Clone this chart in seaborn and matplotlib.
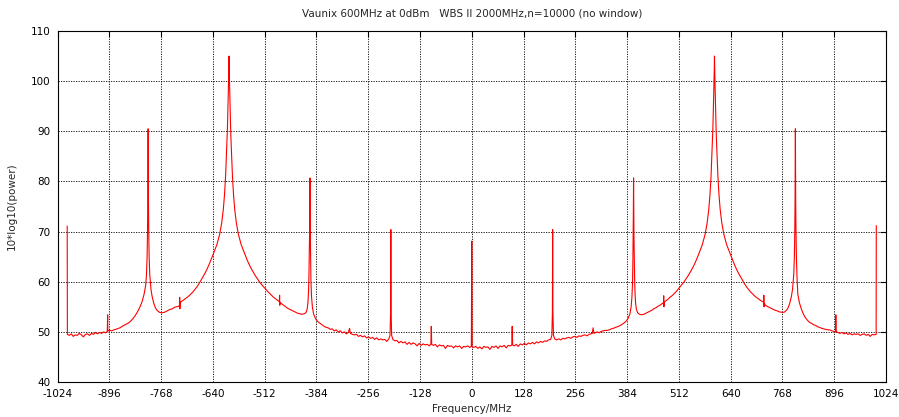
import matplotlib
matplotlib.use("Agg")
import matplotlib.pyplot as plt
import seaborn as sns
import pandas as pd

# ---- data (frequency in MHz, power in dB) ----
freq_mhz = [
    -1000, -999.6, -995, -990, -985, -980, -975, -970, -965, -960,
    -955, -950, -945, -940, -935, -930, -925, -920, -915, -910,
    -905, -901, -900, -899.6, -895, -890, -885, -880, -870, -860,
    -850, -845, -840, -835, -830, -825, -820, -815, -810, -806,
    -804, -802.5, -801.5, -800.8, -800.3, -800, -799.7, -799.2, -798.5, -797.5,
    -796, -793, -790, -786, -782, -778, -772, -766, -760, -755,
    -750, -745, -740, -735, -730, -725, -722.5, -722, -721.5, -721,
    -715, -710, -705, -700, -695, -690, -685, -680, -675, -670,
    -665, -660, -655, -650, -645, -640, -630, -623, -618, -614,
    -611, -608.5, -606.5, -605, -604, -603, -602, -601, -600.5, -600,
    -599.5, -599, -598, -597, -596, -595, -593.5, -591.5, -589, -586,
    -582, -577, -570, -560,
    -555, -550, -545, -540, -535, -530, -525, -520, -515, -510,
    -505, -500, -495, -490, -485, -480, -475.5, -475, -474.5, -474,
    -470, -465, -460, -455, -450, -445, -440, -435, -430, -425,
    -420, -415, -410, -407, -405, -403.5, -402.5, -401.7, -401, -400.5,
    -400, -399.5, -399, -398.3, -397.5, -396, -394, -391, -386, -380,
    -375, -370, -365, -360, -355, -350, -345, -340, -335, -330,
    -325, -320, -315, -310, -305, -302, -300, -295, -290, -285,
    -280, -275, -270, -265, -260, -255, -250, -245, -240, -235,
    -230, -225, -220, -215, -210, -205, -202, -200.6, -200, -199.4,
    -198, -195, -190, -185, -180, -175, -170, -165, -160, -155,
    -150, -145, -140, -135, -130, -125, -120, -115, -110, -105,
    -101, -100, -99, -95, -90, -85, -80, -75, -70, -65,
    -60, -55, -50, -45, -40, -35, -30, -25, -20, -15,
    -10, -5, -1, 0, 1, 5, 10, 15, 20, 25,
    30, 35, 40, 45, 50, 55, 60, 65, 70, 75,
    80, 85, 90, 95, 99, 100, 101, 105, 110, 115,
    120, 125, 130, 135, 140, 145, 150, 155, 160, 165,
    170, 175, 180, 185, 190, 195, 198, 199.4, 200, 200.6,
    202, 205, 210, 215, 220, 225, 230, 235, 240, 245,
    250, 255, 260, 265, 270, 275, 280, 285, 290, 295,
    298, 300, 302, 305, 310, 315, 320, 325, 330, 335,
    340, 345, 350, 355, 360, 365, 370, 375, 380, 386,
    391, 394, 396, 397.5, 398.3, 399, 399.5, 400, 400.5, 401,
    401.7, 402.5, 403.5, 405, 407, 410, 415, 420, 425, 430,
    435, 440, 445, 450, 455, 460, 465, 470, 474, 474.5,
    475, 475.5, 480, 485, 490, 495, 500, 505, 510, 515,
    520, 525, 530, 535, 540, 545, 550, 555, 560, 570,
    577, 582, 586, 589, 591.5, 593.5, 595, 596, 597, 598,
    599, 599.5, 600, 600.5, 601, 602, 603, 604, 605, 606.5,
    608.5, 611, 614, 618, 623, 630, 640, 645, 650, 655,
    660, 665, 670, 675,
    680, 685, 690, 695, 700, 705, 710, 715, 720, 721.5,
    722, 722.5, 723, 725, 730, 735, 740, 745, 750, 755,
    760, 766, 772, 778, 782, 786, 790, 793, 796, 797.5,
    798.5, 799.2, 799.7, 800, 800.3, 800.8, 801.5, 802.5, 804, 806,
    810, 815, 820, 825, 830, 835, 840, 845, 850, 855,
    860, 865, 870, 875, 880, 885, 890, 895, 899.6, 900,
    900.4, 905, 910, 915, 920, 925, 930, 935, 940, 945,
    950, 955, 960, 965, 970, 975, 980, 985, 990, 995,
    999.6, 1000,
]

power_db = [
    71.1, 49.5, 49.3, 49.6, 49.1, 49.4, 49.3, 49.7, 49.4, 49.0,
    49.5, 49.6, 49.3, 49.7, 49.5, 49.9, 49.6, 49.9, 49.7, 50.0,
    49.8, 50.1, 53.4, 50.2, 50.3, 50.2, 50.4, 50.5, 50.8, 51.3,
    51.7, 52.0, 52.4, 52.9, 53.5, 54.2, 55.0, 56.0, 57.5, 59.3,
    61.5, 65.0, 70.0, 76.0, 84.0, 90.5, 84.0, 76.0, 70.0, 65.0,
    61.5, 58.5, 57.0, 55.7, 54.8, 54.3, 53.9, 53.8, 53.9, 54.1,
    54.3, 54.5, 54.6, 54.9, 55.0, 55.1, 55.2, 56.9, 54.6, 55.9,
    56.2, 56.5, 56.8, 57.1, 57.5, 57.9, 58.4, 58.9, 59.5, 60.2,
    60.9, 61.6, 62.4, 63.3, 64.3, 65.3, 67.4, 69.5, 71.8, 74.5,
    77.5, 81.0, 85.0, 88.0, 90.5, 93.5, 97.0, 100.5, 102.5, 105.0,
    102.5, 100.5, 97.0, 93.5, 90.5, 88.0, 85.0, 81.0, 77.5, 74.5,
    71.8, 69.5, 67.4, 65.3,
    64.3, 63.4, 62.6, 61.9, 61.2, 60.6, 60.0, 59.5, 59.0, 58.6,
    58.1, 57.7, 57.3, 56.9, 56.6, 56.3, 56.0, 57.3, 55.3, 55.9,
    55.6, 55.3, 55.0, 54.7, 54.5, 54.3, 54.1, 53.9, 53.7, 53.6,
    53.5, 53.6, 53.8, 54.5, 55.7, 58.0, 61.0, 65.0, 69.0, 74.0,
    80.7, 74.0, 69.0, 64.0, 60.0, 57.0, 55.0, 53.6, 52.6, 52.0,
    51.7, 51.4, 51.1, 50.9, 50.8, 50.5, 50.6, 50.2, 50.4, 50.0,
    50.2, 49.8, 50.0, 49.6, 49.9, 50.7, 49.7, 49.5, 49.4, 49.5,
    49.1, 49.3, 49.0, 49.2, 48.8, 49.0, 48.7, 48.9, 48.5, 48.8,
    48.4, 48.6, 48.4, 48.5, 48.1, 48.6, 49.3, 54.0, 70.4, 54.0,
    49.3, 48.5, 48.2, 48.3, 47.8, 48.1, 47.8, 48.0, 47.5, 47.9,
    47.5, 47.8, 47.6, 47.2, 47.7, 47.3, 47.6, 47.4, 47.5, 47.2,
    47.6, 51.1, 47.5, 47.3, 47.5, 47.0, 47.4, 47.2, 47.3, 46.7,
    47.3, 47.1, 47.2, 46.8, 47.2, 47.0, 47.2, 46.7, 47.1, 47.0,
    47.2, 46.9, 47.1, 68.1, 47.0, 46.9, 47.1, 46.7, 47.0, 46.6,
    47.1, 46.9, 47.0, 46.5, 47.1, 46.9, 47.2, 46.7, 47.2, 47.0,
    47.3, 46.8, 47.3, 47.2, 47.4, 51.1, 47.4, 47.2, 47.5, 47.1,
    47.6, 47.4, 47.7, 47.4, 47.8, 47.6, 47.9, 47.6, 48.0, 47.8,
    48.1, 47.9, 48.2, 48.1, 48.4, 48.5, 49.3, 54.0, 70.4, 54.0,
    49.3, 48.6, 48.4, 48.6, 48.4, 48.7, 48.6, 48.8, 48.9, 48.7,
    49.0, 49.1, 48.9, 49.2, 49.1, 49.3, 49.4, 49.2, 49.5, 49.6,
    49.7, 50.8, 49.7, 49.8, 50.0, 49.8, 50.1, 50.2, 50.3, 50.3,
    50.4, 50.6, 50.7, 50.9, 51.0, 51.2, 51.4, 51.7, 52.0, 52.6,
    53.6, 55.0, 57.0, 60.0, 64.0, 69.0, 74.0, 80.7, 74.0, 69.0,
    65.0, 61.0, 58.0, 55.7, 54.5, 53.8, 53.5, 53.4, 53.5, 53.7,
    53.9, 54.1, 54.3, 54.6, 54.8, 55.1, 55.3, 55.6, 55.8, 57.2,
    55.0, 55.9, 56.2, 56.5, 56.9, 57.2, 57.6, 58.0, 58.5, 59.0,
    59.5, 60.0, 60.6, 61.2, 61.9, 62.6, 63.4, 64.3, 65.3, 67.4,
    69.5, 71.8, 74.5, 77.5, 81.0, 85.0, 88.0, 90.5, 93.5, 97.0,
    100.5, 102.5, 105.0, 102.5, 100.5, 97.0, 93.5, 90.5, 88.0, 85.0,
    81.0, 77.5, 74.5, 71.8, 69.5, 67.4, 65.3, 64.3, 63.3, 62.4,
    61.6, 60.9, 60.2, 59.5,
    58.9, 58.4, 57.9, 57.5, 57.1, 56.8, 56.5, 56.2, 56.0, 55.8,
    57.3, 55.0, 55.7, 55.4, 55.1, 54.9, 54.7, 54.5, 54.3, 54.2,
    54.0, 53.9, 53.9, 54.3, 54.8, 55.7, 57.0, 58.5, 61.5, 65.0,
    70.0, 76.0, 84.0, 90.5, 84.0, 76.0, 70.0, 65.0, 61.0, 57.5,
    55.8, 54.5, 53.5, 52.8, 52.3, 51.9, 51.7, 51.4, 51.3, 51.0,
    50.9, 50.7, 50.6, 50.5, 50.4, 50.4, 50.2, 50.1, 50.0, 53.4,
    50.0, 49.9, 49.7, 49.9, 49.6, 49.8, 49.5, 49.7, 49.4, 49.6,
    49.5, 49.6, 49.3, 49.5, 49.6, 49.3, 49.5, 49.1, 49.5, 49.4,
    49.5, 71.2,
]

x_ticks = list(range(-1024, 1025, 128))
y_ticks = list(range(40, 111, 10))

title_text = "Vaunix 600MHz at 0dBm   WBS II 2000MHz,n=10000 (no window)"
x_label = "Frequency/MHz"
y_label = "10*log10(power)"

assert len(freq_mhz) == len(power_db)
df = pd.DataFrame({"freq": freq_mhz, "power": power_db})

sns.set_style("white")
plt.rcParams["font.family"] = ["DejaVu Sans"]

fig = plt.figure(figsize=(8.99, 4.17), dpi=100)
ax = fig.add_axes([57.5 / 899, 1 - 382 / 417, (886 - 57.5) / 899, (382 - 31) / 417])

sns.lineplot(data=df, x="freq", y="power", color="#ff0000", linewidth=0.8,
             estimator=None, sort=False, ax=ax)

ax.set_xlim(-1024, 1024)
ax.set_ylim(40, 110)
ax.set_xticks(x_ticks)
ax.set_yticks(y_ticks)
ax.set_xticklabels([str(t) for t in x_ticks], fontsize=7.5)
ax.set_yticklabels([str(t) for t in y_ticks], fontsize=7.5)
ax.grid(True, color="black", linestyle=(0, (1.5, 1.5)), linewidth=0.6)
ax.set_axisbelow(True)
ax.tick_params(direction="in", length=4, width=0.8, top=True, right=True,
               colors="black", pad=5)
for sp in ax.spines.values():
    sp.set_visible(True)
    sp.set_color("black")
    sp.set_linewidth(0.8)

ax.set_xlabel(x_label, fontsize=7.5, labelpad=4)
ax.set_ylabel(y_label, fontsize=7.5, labelpad=10)
fig.text((57.5 + 886) / 2 / 899, 1 - 13 / 417, title_text, ha="center", va="center", fontsize=7.5)

fig.savefig("out.png", dpi=100)
